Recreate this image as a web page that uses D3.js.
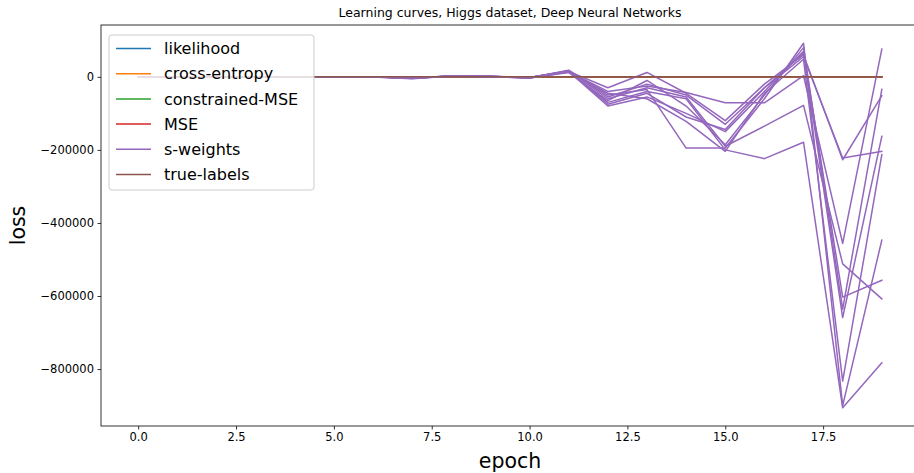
<!DOCTYPE html>
<html>
<head>
<meta charset="utf-8">
<script src="https://cdn.jsdelivr.net/npm/d3@7"></script>
<style>
  body { margin: 0; background: #fff; }
  svg { font-family: "DejaVu Sans", sans-serif; }
</style>
</head>
<body>
<svg id="chart" width="914" height="473"></svg>
<script>
const epochs = d3.range(0, 20);
const seriesNames = ["likelihood", "cross-entropy", "constrained-MSE", "MSE", "s-weights", "true-labels"];
const seriesColors = ["#1f77b4", "#ff7f0e", "#2ca02c", "#d62728", "#9467bd", "#8c564b"];

// the four loss curves sit at ~0 on this scale, hidden under true-labels
const likelihood = [0.62, 0.55, 0.52, 0.51, 0.5, 0.5, 0.49, 0.49, 0.49, 0.48, 0.48, 0.48, 0.48, 0.47, 0.47, 0.47, 0.47, 0.47, 0.47, 0.46];
const crossEntropy = [0.61, 0.54, 0.52, 0.5, 0.5, 0.49, 0.49, 0.49, 0.48, 0.48, 0.48, 0.48, 0.47, 0.47, 0.47, 0.47, 0.47, 0.46, 0.46, 0.46];
const constrainedMSE = [0.22, 0.19, 0.18, 0.17, 0.17, 0.17, 0.16, 0.16, 0.16, 0.16, 0.16, 0.16, 0.16, 0.16, 0.16, 0.15, 0.15, 0.15, 0.15, 0.15];
const mse = [0.21, 0.19, 0.18, 0.17, 0.17, 0.16, 0.16, 0.16, 0.16, 0.16, 0.16, 0.16, 0.16, 0.15, 0.15, 0.15, 0.15, 0.15, 0.15, 0.15];
const trueLabels = [0.44, 0.44, 0.44, 0.44, 0.44, 0.44, 0.44, 0.44, 0.44, 0.44, 0.44, 0.44, 0.44, 0.44, 0.44, 0.44, 0.44, 0.44, 0.44, 0.44];

// s-weights: one curve per run
const sWeights = [
  [0, 500, -1000, 0, 0, 500, 0, -3000, 1500, 1000, -2000, 15000, -30000, 12000, -45000, -120000, -20000, 60000, -227000, -52000],
  [0, 0, -500, 500, 0, 0, -500, -4000, 2000, 1000, -2500, 17000, -55000, -20000, -50000, -130000, -30000, 55000, -222000, -204000],
  [-500, 0, 0, 0, 500, 0, 0, -3500, 2500, 500, -3000, 14000, -40000, -25000, -43000, -71000, -71000, 3000, -456000, 76000],
  [0, 0, 0, -500, 0, 0, 500, -4500, 2000, 1500, -2000, 16000, -60000, -30000, -55000, -190000, -135000, -78000, -512000, -608000],
  [0, -500, 0, 0, 0, -500, 0, -3000, 1000, 1000, -3500, 13000, -70000, -40000, -60000, -200000, -224000, -179000, -906000, -783000],
  [500, 0, 0, 0, -500, 0, 0, -4000, 3000, 500, -2500, 18000, -50000, -35000, -195000, -195000, -60000, 92000, -900000, -447000],
  [0, 0, 500, 0, 0, 0, -500, -5000, 2000, 1000, -2000, 15000, -80000, -55000, -100000, -150000, -40000, 70000, -603000, -557000],
  [0, 0, 0, 0, 0, 500, 0, -3000, 1500, 2000, -3000, 12000, -65000, -10000, -80000, -186000, -50000, 80000, -636000, -34000],
  [0, 500, 0, 0, 0, 0, 0, -4000, 2500, 1000, -2000, 16000, -75000, -45000, -110000, -144000, -30000, 65000, -659000, -163000],
  [0, 0, 0, 500, 0, 0, 0, -3500, 2000, 500, -1500, 14000, -45000, -60000, -122000, -204000, -45000, 48000, -833000, -213000]
];

const xTicks = [0, 2.5, 5, 7.5, 10, 12.5, 15, 17.5];
const yTicks = [0, -200000, -400000, -600000, -800000];

const svg = d3.select("#chart");
const margin = { left: 101, top: 25, right: 919, bottom: 426 };

// domains padded 5% like matplotlib autoscale
const allS = sWeights.flat();
const yMin = d3.min(allS), yMax = d3.max(allS);
const yPad = (yMax - yMin) * 0.05;
const x = d3.scaleLinear().domain([-0.95, 19.95]).range([margin.left, margin.right]);
const y = d3.scaleLinear().domain([yMin - yPad, yMax + yPad]).range([margin.bottom, margin.top]);

const clip = svg.append("defs").append("clipPath").attr("id", "plotClip");
clip.append("rect")
    .attr("x", margin.left).attr("y", margin.top)
    .attr("width", margin.right - margin.left).attr("height", margin.bottom - margin.top);

const line = d3.line().x((d, i) => x(epochs[i])).y(d => y(d));
const g = svg.append("g").attr("clip-path", "url(#plotClip)");

const drawSeries = (data, color) => {
    g.append("path")
        .datum(data)
        .attr("d", line)
        .attr("fill", "none")
        .attr("stroke", color)
        .attr("stroke-width", 1.5)
        .attr("stroke-linejoin", "round")
        .attr("stroke-linecap", "square");
};
drawSeries(likelihood, seriesColors[0]);
drawSeries(crossEntropy, seriesColors[1]);
drawSeries(constrainedMSE, seriesColors[2]);
drawSeries(mse, seriesColors[3]);
sWeights.forEach(s => drawSeries(s, seriesColors[4]));
drawSeries(trueLabels, seriesColors[5]);

// axes
const fmt = d => d3.format(".1f")(d);
const xAxis = d3.axisBottom(x).tickValues(xTicks).tickFormat(fmt).tickSize(3.5).tickPadding(3.5);
const yAxis = d3.axisLeft(y).tickValues(yTicks).tickFormat(d => d < 0 ? "\u2212" + Math.abs(d) : String(d)).tickSize(3.5).tickPadding(3.5);

const gx = svg.append("g").attr("transform", `translate(0,${margin.bottom})`).call(xAxis);
const gy = svg.append("g").attr("transform", `translate(${margin.left},0)`).call(yAxis);
[gx, gy].forEach(a => {
    a.select(".domain").remove();
    a.selectAll("line").attr("stroke", "#000").attr("stroke-width", 0.8);
    a.selectAll("text").attr("fill", "#000").style("font-size", "11.5px").style("font-family", "DejaVu Sans");
});

// spines
svg.append("rect")
    .attr("x", margin.left).attr("y", margin.top)
    .attr("width", margin.right - margin.left).attr("height", margin.bottom - margin.top)
    .attr("fill", "none").attr("stroke", "#000").attr("stroke-width", 0.8);

// labels
svg.append("text").attr("x", (margin.left + margin.right) / 2).attr("y", 17)
    .attr("text-anchor", "middle").style("font-size", "12.5px")
    .text("Learning curves, Higgs dataset, Deep Neural Networks");
svg.append("text").attr("x", (margin.left + margin.right) / 2).attr("y", 468)
    .attr("text-anchor", "middle").style("font-size", "20.5px").text("epoch");
svg.append("text").attr("transform", `translate(25,${(margin.top + margin.bottom) / 2}) rotate(-90)`)
    .attr("text-anchor", "middle").style("font-size", "20.5px").text("loss");

// legend
const legend = svg.append("g").attr("transform", "translate(109,35)");
legend.append("rect")
    .attr("width", 205).attr("height", 155).attr("rx", 3)
    .attr("fill", "#fff").attr("fill-opacity", 0.8)
    .attr("stroke", "#cccccc").attr("stroke-width", 1);
legend.selectAll("g.item")
    .data(seriesNames)
    .join(enter => {
        const item = enter.append("g").attr("class", "item")
            .attr("transform", (d, i) => `translate(0,${13.5 + i * 25.2})`);
        item.append("line")
            .attr("x1", 7).attr("x2", 42).attr("y1", 0).attr("y2", 0)
            .attr("stroke", (d, i) => seriesColors[i]).attr("stroke-width", 1.5);
        item.append("text")
            .attr("x", 55).attr("y", 0).attr("dy", "0.35em")
            .style("font-size", "16px").attr("fill", "#000")
            .text(d => d);
        return item;
    });
</script>
</body>
</html>
